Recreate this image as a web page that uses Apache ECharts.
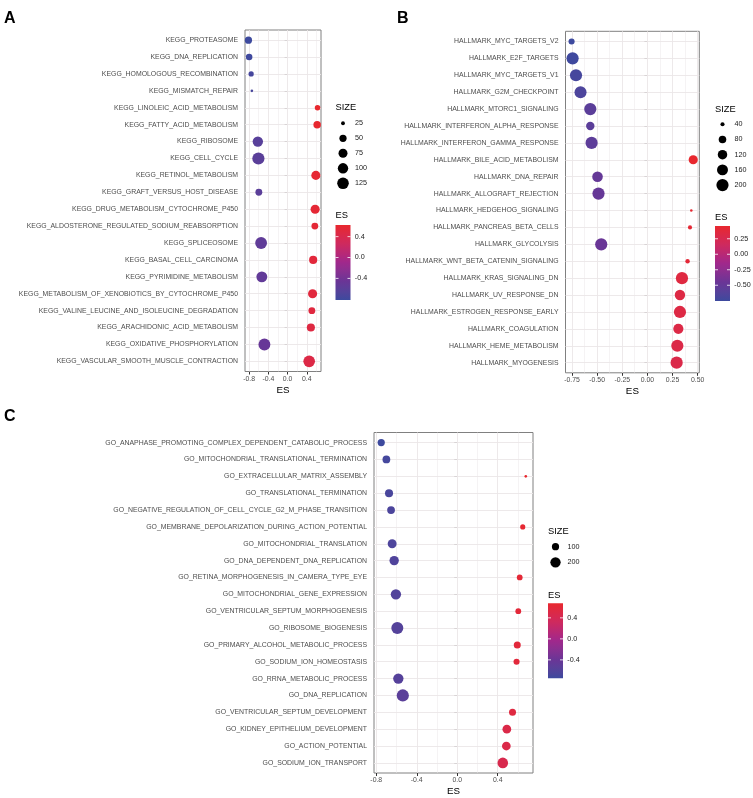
<!DOCTYPE html>
<html><head><meta charset="utf-8">
<script src="https://cdn.jsdelivr.net/npm/echarts@6/dist/echarts.min.js"></script>
<style>html,body{margin:0;padding:0;background:#fff}#chart{width:753px;height:798px}</style>
</head><body><div id="chart"></div>
<script>
const FONT = '"Liberation Sans", Arial, Helvetica, sans-serif';

// ---------------- DATA ----------------
const keggTerms = ['KEGG_PROTEASOME','KEGG_DNA_REPLICATION','KEGG_HOMOLOGOUS_RECOMBINATION','KEGG_MISMATCH_REPAIR','KEGG_LINOLEIC_ACID_METABOLISM','KEGG_FATTY_ACID_METABOLISM','KEGG_RIBOSOME','KEGG_CELL_CYCLE','KEGG_RETINOL_METABOLISM','KEGG_GRAFT_VERSUS_HOST_DISEASE','KEGG_DRUG_METABOLISM_CYTOCHROME_P450','KEGG_ALDOSTERONE_REGULATED_SODIUM_REABSORPTION','KEGG_SPLICEOSOME','KEGG_BASAL_CELL_CARCINOMA','KEGG_PYRIMIDINE_METABOLISM','KEGG_METABOLISM_OF_XENOBIOTICS_BY_CYTOCHROME_P450','KEGG_VALINE_LEUCINE_AND_ISOLEUCINE_DEGRADATION','KEGG_ARACHIDONIC_ACID_METABOLISM','KEGG_OXIDATIVE_PHOSPHORYLATION','KEGG_VASCULAR_SMOOTH_MUSCLE_CONTRACTION'];
const keggES = [-0.814,-0.800,-0.758,-0.743,0.623,0.615,-0.619,-0.607,0.588,-0.598,0.573,0.567,-0.551,0.532,-0.536,0.520,0.505,0.484,-0.482,0.449];
const keggSize = [50,43,32,23,34,53,100,140,77,46,77,46,130,62,110,77,46,62,132,128];
const keggTicks = [-0.8,-0.4,0.0,0.4];
const keggSizeBreaks = [25,50,75,100,125];
const keggESBreaks = [0.4,0.0,-0.4];

const hallTerms = ['HALLMARK_MYC_TARGETS_V2','HALLMARK_E2F_TARGETS','HALLMARK_MYC_TARGETS_V1','HALLMARK_G2M_CHECKPOINT','HALLMARK_MTORC1_SIGNALING','HALLMARK_INTERFERON_ALPHA_RESPONSE','HALLMARK_INTERFERON_GAMMA_RESPONSE','HALLMARK_BILE_ACID_METABOLISM','HALLMARK_DNA_REPAIR','HALLMARK_ALLOGRAFT_REJECTION','HALLMARK_HEDGEHOG_SIGNALING','HALLMARK_PANCREAS_BETA_CELLS','HALLMARK_GLYCOLYSIS','HALLMARK_WNT_BETA_CATENIN_SIGNALING','HALLMARK_KRAS_SIGNALING_DN','HALLMARK_UV_RESPONSE_DN','HALLMARK_ESTROGEN_RESPONSE_EARLY','HALLMARK_COAGULATION','HALLMARK_HEME_METABOLISM','HALLMARK_MYOGENESIS'];
const hallES = [-0.754,-0.744,-0.710,-0.665,-0.568,-0.568,-0.555,0.456,-0.496,-0.486,0.437,0.424,-0.459,0.400,0.344,0.324,0.324,0.308,0.298,0.291];
const hallSize = [58,200,200,195,200,97,200,112,150,200,36,40,200,42,200,144,200,138,200,200];
const hallTicks = [-0.75,-0.50,-0.25,0.00,0.25,0.50];
const hallSizeBreaks = [40,80,120,160,200];
const hallESBreaks = [0.25,0.00,-0.25,-0.50];

const goTerms = ['GO_ANAPHASE_PROMOTING_COMPLEX_DEPENDENT_CATABOLIC_PROCESS','GO_MITOCHONDRIAL_TRANSLATIONAL_TERMINATION','GO_EXTRACELLULAR_MATRIX_ASSEMBLY','GO_TRANSLATIONAL_TERMINATION','GO_NEGATIVE_REGULATION_OF_CELL_CYCLE_G2_M_PHASE_TRANSITION','GO_MEMBRANE_DEPOLARIZATION_DURING_ACTION_POTENTIAL','GO_MITOCHONDRIAL_TRANSLATION','GO_DNA_DEPENDENT_DNA_REPLICATION','GO_RETINA_MORPHOGENESIS_IN_CAMERA_TYPE_EYE','GO_MITOCHONDRIAL_GENE_EXPRESSION','GO_VENTRICULAR_SEPTUM_MORPHOGENESIS','GO_RIBOSOME_BIOGENESIS','GO_PRIMARY_ALCOHOL_METABOLIC_PROCESS','GO_SODIUM_ION_HOMEOSTASIS','GO_RRNA_METABOLIC_PROCESS','GO_DNA_REPLICATION','GO_VENTRICULAR_SEPTUM_DEVELOPMENT','GO_KIDNEY_EPITHELIUM_DEVELOPMENT','GO_ACTION_POTENTIAL','GO_SODIUM_ION_TRANSPORT'];
const goES = [-0.751,-0.700,0.677,-0.674,-0.654,0.647,-0.643,-0.623,0.617,-0.606,0.603,-0.592,0.593,0.586,-0.582,-0.538,0.546,0.490,0.485,0.450];
const goSize = [100,114,44,122,114,61,148,164,71,200,71,275,95,76,200,285,95,142,142,211];
const goTicks = [-0.8,-0.4,0.0,0.4];
const goSizeBreaks = [100,200];
const goESBreaks = [0.4,0.0,-0.4];

// ---------------- COLOUR (piecewise Lab gradient) ----------------
const COLOR_STOPS = [[0,'#3D4A9E'],[0.25,'#6A3596'],[0.5,'#A0288C'],[0.75,'#CE2A5E'],[1,'#E8282E']];
function hex2rgb(h){h=h.replace('#','');return [0,2,4].map(i=>parseInt(h.substr(i,2),16));}
function lin(c){c/=255;return c<=0.04045?c/12.92:Math.pow((c+0.055)/1.055,2.4);}
function delin(c){const v=c<=0.0031308?12.92*c:1.055*Math.pow(c,1/2.4)-0.055;return Math.max(0,Math.min(255,Math.round(v*255)));}
function rgb2lab(rgb){const [R,G,B]=rgb.map(lin);
  const X=(0.4124*R+0.3576*G+0.1805*B)/0.95047,Y=(0.2126*R+0.7152*G+0.0722*B),Z=(0.0193*R+0.1192*G+0.9505*B)/1.08883;
  const f=t=>t>0.008856?Math.cbrt(t):7.787*t+16/116;const fx=f(X),fy=f(Y),fz=f(Z);
  return [116*fy-16,500*(fx-fy),200*(fy-fz)];}
function lab2rgb(lab){const fy=(lab[0]+16)/116,fx=fy+lab[1]/500,fz=fy-lab[2]/200;
  const fi=t=>t>0.206893?t*t*t:(t-16/116)/7.787;
  const X=fi(fx)*0.95047,Y=fi(fy),Z=fi(fz)*1.08883;
  const R=3.2406*X-1.5372*Y-0.4986*Z,G=-0.9689*X+1.8758*Y+0.0415*Z,B=0.0557*X-0.2040*Y+1.0570*Z;
  return 'rgb('+delin(R)+','+delin(G)+','+delin(B)+')';}
const labStops = COLOR_STOPS.map(s=>[s[0], rgb2lab(hex2rgb(s[1]))]);
function grad(t){t=Math.max(0,Math.min(1,t));
  let k=0; while(k<labStops.length-2 && t>labStops[k+1][0]) k++;
  const a=labStops[k], b=labStops[k+1], u=(t-a[0])/(b[0]-a[0]);
  return lab2rgb(a[1].map((v,i)=>v+(b[1][i]-v)*u));}

// ---------------- LAYOUT ----------------
const R1 = 2.6, R2 = 12.2;
const panels = [
  {terms:keggTerms, es:keggES, size:keggSize, ticks:keggTicks, dec:1, sizeBreaks:keggSizeBreaks, esBreaks:keggESBreaks,
   grid:{left:245, top:30, width:76, height:341.5},
   lg:{x:335.5, sizeTitleY:107, keyY0:123.3, keyStep:15, esTitleY:215.7, barTop:225},
   letter:{t:'A', x:4, y:18.5}},
  {terms:hallTerms, es:hallES, size:hallSize, ticks:hallTicks, dec:2, sizeBreaks:hallSizeBreaks, esBreaks:hallESBreaks,
   grid:{left:565.5, top:31.3, width:133.8, height:341.5},
   lg:{x:715, sizeTitleY:109, keyY0:124.3, keyStep:15.2, esTitleY:217.5, barTop:226},
   letter:{t:'B', x:397, y:18.5}},
  {terms:goTerms, es:goES, size:goSize, ticks:goTicks, dec:1, sizeBreaks:goSizeBreaks, esBreaks:goESBreaks,
   grid:{left:374, top:432.5, width:159, height:340.5},
   lg:{x:548, sizeTitleY:531, keyY0:546.7, keyStep:15.6, esTitleY:595, barTop:603.3},
   letter:{t:'C', x:4, y:417}}
];

const grids=[], xAxes=[], yAxes=[], series=[], graphics=[];
panels.forEach((p,i)=>{
  const n=p.terms.length;
  const eMin=Math.min(...p.es), eMax=Math.max(...p.es);
  const sMin=Math.min(...p.size), sMax=Math.max(...p.size);
  const xmin=eMin-0.05*(eMax-eMin), xmax=eMax+0.05*(eMax-eMin);
  const sizeFn=v=>R1+(R2-R1)*Math.sqrt(Math.max(0,Math.min(1,(v-sMin)/(sMax-sMin))));
  const colFn=e=>grad((e-eMin)/(eMax-eMin));
  const idx=p.terms.map((t,k)=>k+1);

  grids.push(Object.assign({show:true, borderColor:'#808080', borderWidth:1, backgroundColor:'#fff', containLabel:false, outerBoundsMode:'none'}, p.grid));
  xAxes.push({type:'value', gridIndex:i, min:xmin, max:xmax,
    axisLine:{show:false}, splitLine:{show:false},
    axisTick:{show:true, length:3, customValues:p.ticks, lineStyle:{color:'#333', width:1}},
    axisLabel:{customValues:p.ticks, formatter:v=>(+v).toFixed(p.dec), fontSize:6.9, color:'#4d4d4d', margin:4, fontFamily:FONT},
    name:'ES', nameLocation:'middle', nameGap:13.5, nameTextStyle:{fontSize:9.8, color:'#000', fontFamily:FONT}});
  yAxes.push({type:'value', gridIndex:i, inverse:true, min:0.4, max:n+0.6,
    axisLine:{show:false}, splitLine:{show:false},
    axisTick:{show:true, length:3, customValues:idx, lineStyle:{color:'#333', width:1}},
    axisLabel:{customValues:idx, formatter:v=>p.terms[Math.round(v)-1]||'', fontSize:6.9, color:'#4d4d4d', margin:7, fontFamily:FONT}});

  // grid lines following ggplot major/minor breaks
  const step=p.ticks[1]-p.ticks[0];
  const gl=[];
  for(let v=p.ticks[0]-step; v<=p.ticks[p.ticks.length-1]+step+1e-9; v+=step){
    if(v>=xmin&&v<=xmax) gl.push({xAxis:v, lineStyle:{width:0.9}});
    const m=v+step/2; if(m>=xmin&&m<=xmax) gl.push({xAxis:m, lineStyle:{width:0.5}});
  }
  idx.forEach(k=>gl.push({yAxis:k, lineStyle:{width:0.9}}));
  series.push({type:'scatter', xAxisIndex:i, yAxisIndex:i, data:[], z:1, silent:true,
    markLine:{z:1, silent:true, symbol:['none','none'], label:{show:false}, animation:false,
      lineStyle:{color:'#EBE6E8', type:'solid', width:0.9}, data:gl}});
  series.push({type:'scatter', xAxisIndex:i, yAxisIndex:i, z:10, silent:true,
    data:p.terms.map((t,k)=>[p.es[k], k+1, p.size[k]]),
    symbol:'circle', symbolSize:val=>sizeFn(val[2]),
    itemStyle:{color:pr=>colFn(pr.value[0]), opacity:1}});

  // legend: size
  const L=p.lg.x;
  const txt=(x,y,t,fs,fill)=>({type:'text', silent:true, style:{x:x,y:y,text:t,fontSize:fs,fontFamily:FONT,fill:fill,textAlign:'left',textVerticalAlign:'middle',align:'left',verticalAlign:'middle'}});
  graphics.push(txt(L, p.lg.sizeTitleY, 'SIZE', 9.3, '#000'));
  p.sizeBreaks.forEach((b,j)=>{
    const cy=p.lg.keyY0+j*p.lg.keyStep;
    graphics.push({type:'circle', silent:true, shape:{cx:L+7.5, cy:cy, r:sizeFn(b)/2}, style:{fill:'#000'}});
    graphics.push(txt(L+19.5, cy, String(b), 7.2, '#1a1a1a'));
  });
  // legend: colour bar
  graphics.push(txt(L, p.lg.esTitleY, 'ES', 9.3, '#000'));
  const stops=[]; for(let s=0;s<=20;s++){stops.push({offset:s/20, color:grad(1-s/20)});}
  const bw=15, bh=75, bt=p.lg.barTop;
  graphics.push({type:'rect', silent:true, shape:{x:L, y:bt, width:bw, height:bh},
    style:{fill:{type:'linear', x:0, y:0, x2:0, y2:1, colorStops:stops}}});
  p.esBreaks.forEach(b=>{
    const y=bt+(eMax-b)/(eMax-eMin)*bh;
    graphics.push({type:'line', silent:true, shape:{x1:L, y1:y, x2:L+3, y2:y}, style:{stroke:'#fff', lineWidth:0.8}});
    graphics.push({type:'line', silent:true, shape:{x1:L+bw-3, y1:y, x2:L+bw, y2:y}, style:{stroke:'#fff', lineWidth:0.8}});
    graphics.push(txt(L+bw+4.3, y, b.toFixed(p.dec), 7.2, '#1a1a1a'));
  });
  // panel letter
  graphics.push({type:'text', silent:true, style:{x:p.letter.x, y:p.letter.y, text:p.letter.t, fontSize:16, fontWeight:'bold', fontFamily:FONT, fill:'#000', textAlign:'left', textVerticalAlign:'middle', align:'left', verticalAlign:'middle'}});
});

const chart = echarts.init(document.getElementById('chart'), null, {renderer:'canvas'});
chart.setOption({
  animation:false,
  backgroundColor:'#fff',
  textStyle:{fontFamily:FONT},
  grid:grids, xAxis:xAxes, yAxis:yAxes, series:series,
  graphic:{elements:graphics}
});
</script></body></html>
